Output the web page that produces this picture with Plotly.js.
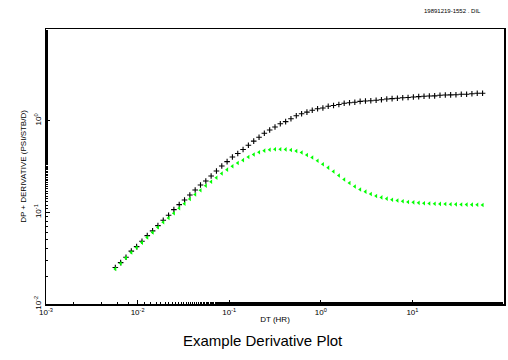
<!DOCTYPE html>
<html>
<head>
<meta charset="utf-8">
<script src="https://cdn.plot.ly/plotly-3.0.1.min.js"></script>
<style>html,body{margin:0;padding:0;background:#fff;}#chart{width:508px;height:360px;}</style>
</head>
<body>
<div id="chart"></div>
<script>
// Elapsed time DT (hr)
var dtHours = [0.00571,0.00653,0.00747,0.00854,0.00976,0.01116,0.01275,0.01458,0.01667,0.01905,
  0.02178,0.02489,0.02846,0.03253,0.03719,0.04251,0.04860,0.05555,0.06350,0.07259,
  0.08298,0.09486,0.1084,0.1240,0.1417,0.1620,0.1852,0.2117,0.2419,0.2766,
  0.3162,0.3614,0.4132,0.4723,0.5400,0.6172,0.7056,0.8066,0.9222,1.054,
  1.205,1.377,1.575,1.800,2.058,2.352,2.689,3.074,3.514,4.017,
  4.592,5.250,6.001,6.860,7.843,8.966,10.25,11.72,13.39,15.31,
  17.50,20.01,22.87,26.15,29.89,34.17,39.06,44.65,51.04,58.35];
// Pressure change DP
var dpValues = [0.0250,0.0283,0.0324,0.0377,0.0423,0.0484,0.0557,0.0627,0.0716,0.0820,
  0.0930,0.1070,0.1213,0.1365,0.1548,0.1755,0.1989,0.2200,0.2495,0.2828,
  0.3206,0.3571,0.4019,0.4388,0.4851,0.5391,0.5976,0.6592,0.7288,0.7917,
  0.8537,0.9252,0.9752,1.051,1.131,1.189,1.238,1.298,1.348,1.376,
  1.435,1.465,1.502,1.548,1.567,1.591,1.625,1.640,1.652,1.669,
  1.694,1.724,1.738,1.755,1.778,1.790,1.814,1.827,1.845,1.859,
  1.865,1.892,1.906,1.910,1.920,1.940,1.945,1.969,1.989,1.990];
// Pressure derivative
var derivValues = [0.02415,0.02772,0.03182,0.03652,0.04122,0.04673,0.05324,0.06036,0.06879,0.07798,
  0.08686,0.09777,0.1109,0.1244,0.1400,0.1567,0.1742,0.1955,0.2157,0.2384,
  0.2655,0.2922,0.3182,0.3456,0.3708,0.4019,0.4279,0.4522,0.4708,0.4815,
  0.4876,0.4880,0.4860,0.4791,0.4672,0.4499,0.4227,0.3969,0.3652,0.3345,
  0.3073,0.2793,0.2526,0.2284,0.2092,0.1916,0.1777,0.1681,0.1587,0.1509,
  0.1454,0.1411,0.1372,0.1345,0.1322,0.1298,0.1285,0.1269,0.1256,0.1247,
  0.1241,0.1235,0.1232,0.1226,0.1223,0.1216,0.1214,0.1213,0.1211,0.1204];

var xTickVals = [0.001,0.01,0.1,1,10];
var xTickText = ['10<sup>-3</sup>','10<sup>-2</sup>','10<sup>-1</sup>','10<sup>0</sup>','10<sup>1</sup>'];
var yTickVals = [0.01,0.1,1];
var yTickText = ['10<sup>-2</sup>','10<sup>-1</sup>','10<sup>0</sup>'];

var traces = [
  {x: dtHours, y: dpValues, type: 'scatter', mode: 'markers', name: 'DP',
   marker: {symbol: 'cross-thin-open', size: 4, color: '#000', line: {color: '#000', width: 1.1}}},
  {x: dtHours, y: derivValues, type: 'scatter', mode: 'markers', name: 'Derivative',
   marker: {symbol: 'triangle-left', size: 4, color: '#00ff00', line: {width: 0}}}
];

var fontF = 'Liberation Sans, Arial, sans-serif';
var layout = {
  width: 508, height: 360,
  margin: {l: 46, r: 4, t: 29, b: 56},
  paper_bgcolor: '#fff', plot_bgcolor: '#fff',
  showlegend: false,
  font: {family: fontF, color: '#000', size: 8},
  xaxis: {
    type: 'log', range: [-3, 2],
    tickvals: xTickVals, ticktext: xTickText,
    ticks: 'inside', ticklen: 4, tickwidth: 1, tickcolor: '#000',
    minor: {ticks: 'inside', ticklen: 2, tickcolor: '#000', tickwidth: 1, showgrid: false},
    showline: true, linecolor: '#000', linewidth: 1.5, mirror: true,
    showgrid: false, zeroline: false,
    tickfont: {size: 8, family: fontF},
    title: {text: 'DT (HR)', font: {size: 8, family: fontF}, standoff: 0}
  },
  yaxis: {
    type: 'log', range: [-2, 1],
    tickvals: yTickVals, ticktext: yTickText, tickangle: -90,
    ticks: 'inside', ticklen: 4, tickwidth: 1, tickcolor: '#000',
    minor: {ticks: 'inside', ticklen: 2, tickcolor: '#000', tickwidth: 1, showgrid: false},
    showline: true, linecolor: '#000', linewidth: 1.5, mirror: true,
    showgrid: false, zeroline: false,
    tickfont: {size: 8, family: fontF},
    title: {text: 'DP + DERIVATIVE (PSI/STB/D)', font: {size: 8, family: fontF}, standoff: 5}
  },
  annotations: [
    {text: 'Example Derivative Plot', xref: 'paper', yref: 'paper', x: 0.473, y: -0.132,
     xanchor: 'center', yanchor: 'middle', showarrow: false,
     font: {size: 15, family: fontF, color: '#000'}},
    {text: '19891219-1552 . DIL', xref: 'paper', yref: 'paper', x: 0.955, y: 1.066,
     xanchor: 'right', yanchor: 'middle', showarrow: false,
     font: {size: 6, family: fontF, color: '#000'}}
  ]
};

Plotly.newPlot('chart', traces, layout, {displayModeBar: false, staticPlot: true});
</script>
</body>
</html>
